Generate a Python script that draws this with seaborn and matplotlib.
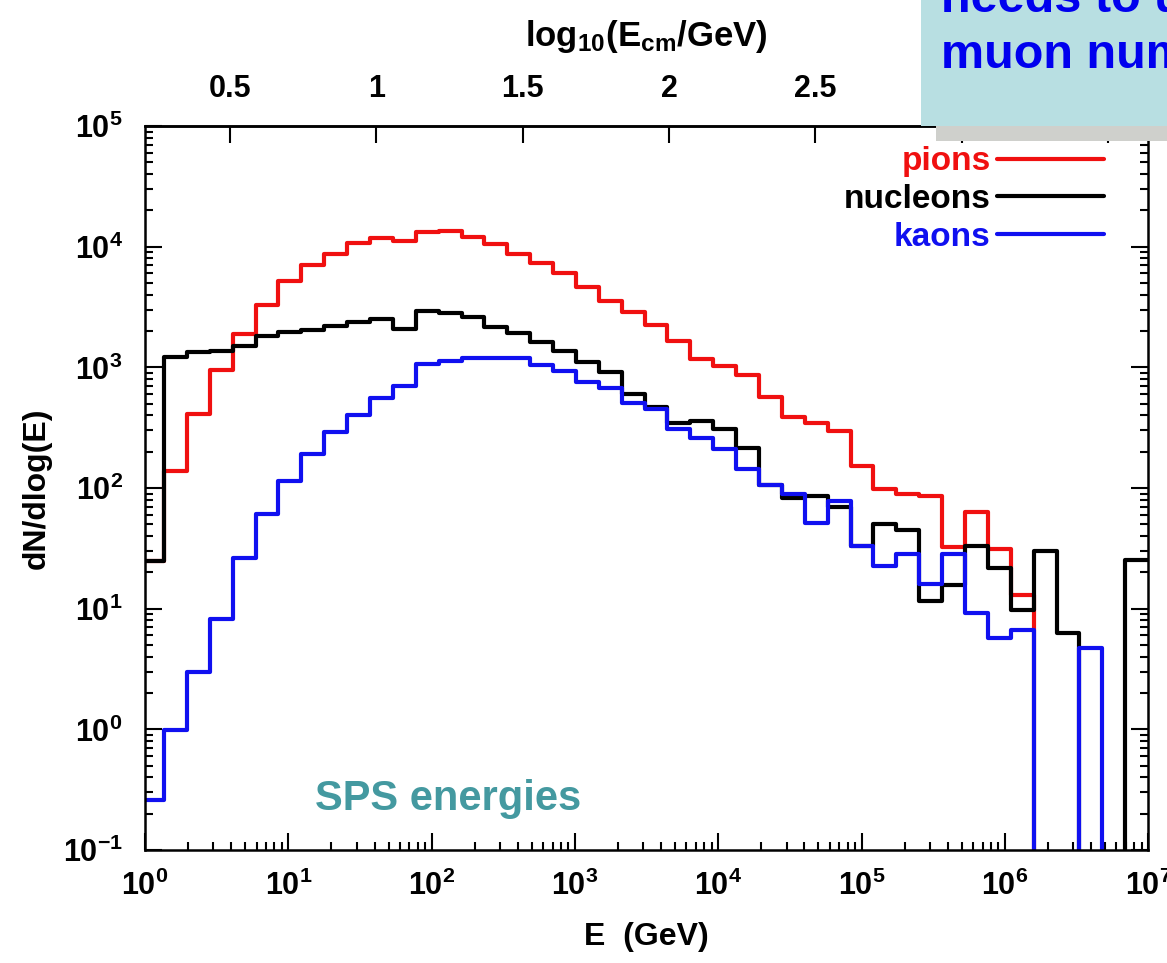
import numpy as np
import pandas as pd
import seaborn as sns
import matplotlib.pyplot as plt
from matplotlib.lines import Line2D
from matplotlib.patches import Rectangle
from matplotlib import ticker

# histogram bins: equal width in log10(E)
bin_lo = -0.0272
bin_width = 0.1597
n_bins = 44

particles = ['pions', 'nucleons', 'kaons']
colors = ['#f01010', '#000000', '#1010f0']

pions = [25, 138, 414, 949, 1890, 3296, 5180, 7100, 8750, 10650,
         11850, 11100, 13200, 13480, 12020, 10450, 8630, 7310, 6040, 4677,
         3580, 2898, 2259, 1641, 1172, 1031, 862, 573, 391, 348,
         297, 152, 99, 89.6, 86.7, 32.3, 63.4, 31.5, 12.9, 0,
         0, 0, 0, 0]
nucleons = [24.7, 1208, 1330, 1355, 1493, 1832, 1950, 2054, 2218, 2375,
            2500, 2080, 2950, 2843, 2634, 2147, 1915, 1632, 1374, 1110,
            908, 600, 468, 348, 360, 310, 215, 107, 83, 86,
            70, 33, 50.4, 45.3, 11.6, 15.6, 32.9, 21.7, 9.8, 30.3,
            6.25, 0, 0, 25.5]
kaons = [0.258, 0.996, 2.97, 8.18, 26.3, 61.5, 114, 190, 293, 400,
         555, 698, 1058, 1120, 1186, 1207, 1186, 1045, 925, 757,
         681, 511, 450, 311, 258, 209, 144, 107, 89, 51.5,
         78, 32.9, 22.4, 28.6, 16.0, 28.4, 9.2, 5.76, 6.68, 0,
         0, 4.7, 0, 0]

# top axis ticks; the last two sit under the slide box, so no labels
top_ticks = [0.5, 1, 1.5, 2, 2.5, 3, 3.5]
top_labels = ['0.5', '1', '1.5', '2', '2.5', '', '']

# build long-form table, last value repeated so the final step reaches the edge
edges = 10 ** (bin_lo + bin_width * np.arange(n_bins + 1))
rows = []
for name, vals in zip(particles, [pions, nucleons, kaons]):
    for e, v in zip(edges, list(vals) + [vals[-1]]):
        rows.append((name, e, v))
df = pd.DataFrame(rows, columns=['particle', 'E', 'dN'])

sns.set_style('ticks')
plt.rcParams['font.family'] = ['Liberation Sans', 'DejaVu Sans']
plt.rcParams['font.weight'] = 'bold'
plt.rcParams['axes.labelweight'] = 'bold'
plt.rcParams['text.color'] = 'black'
plt.rcParams['axes.labelcolor'] = 'black'
plt.rcParams['axes.edgecolor'] = 'black'
plt.rcParams['xtick.color'] = 'black'
plt.rcParams['ytick.color'] = 'black'
plt.rcParams['mathtext.fontset'] = 'custom'
plt.rcParams['mathtext.rm'] = 'Liberation Sans:bold'
plt.rcParams['mathtext.bf'] = 'Liberation Sans:bold'
plt.rcParams['mathtext.it'] = 'Liberation Sans:bold'

fig = plt.figure(figsize=(11.67, 9.63), dpi=100)
ax = fig.add_axes([0.1243, 0.1173, 0.8595, 0.7518])

sns.lineplot(data=df, x='E', y='dN', hue='particle', hue_order=particles,
             palette=colors, drawstyle='steps-post', estimator=None,
             sort=False, linewidth=3, legend=False, ax=ax)

ax.set_xscale('log')
ax.set_yscale('log')
ax.set_xlim(1, 1e7)
ax.set_ylim(0.1, 1e5)

fmt = ticker.FuncFormatter(lambda v, p: r'$\mathbf{10^{%d}}$' % round(np.log10(v)))
ax.xaxis.set_major_locator(ticker.LogLocator(base=10, numticks=20))
ax.yaxis.set_major_locator(ticker.LogLocator(base=10, numticks=20))
ax.xaxis.set_minor_locator(ticker.LogLocator(base=10, subs=np.arange(2, 10), numticks=20))
ax.yaxis.set_minor_locator(ticker.LogLocator(base=10, subs=np.arange(2, 10), numticks=20))
ax.xaxis.set_major_formatter(fmt)
ax.yaxis.set_major_formatter(fmt)
ax.xaxis.set_minor_formatter(ticker.NullFormatter())
ax.yaxis.set_minor_formatter(ticker.NullFormatter())

ax.tick_params(which='both', direction='in', width=1.5, top=False, right=True,
               labelsize=22)
ax.tick_params(which='major', length=12)
ax.tick_params(which='minor', length=6)
ax.tick_params(axis='x', pad=15)
ax.tick_params(axis='y', pad=16)
for s in ax.spines.values():
    s.set_linewidth(1.8)
    s.set_visible(True)

ax.set_xlabel('E  (GeV)', fontsize=23, labelpad=14)
ax.set_ylabel('dN/dlog(E)', fontsize=23, labelpad=8)

# top axis: log10 of centre-of-mass energy
a_cm, b_cm = 0.4895, 0.21


def to_cm(e):
    return a_cm * np.log10(np.maximum(e, 1e-300)) + b_cm


def from_cm(s):
    return 10 ** ((np.asarray(s) - b_cm) / a_cm)


ax2 = ax.secondary_xaxis('top', functions=(to_cm, from_cm))
ax2.set_xticks(top_ticks)
ax2.xaxis.set_major_formatter(ticker.FixedFormatter(top_labels))
ax2.xaxis.set_minor_locator(ticker.NullLocator())
ax2.tick_params(direction='in', length=12, width=1.5, labelsize=22, pad=16)
ax2.spines['top'].set_linewidth(1.8)
ax2.set_xlabel(r'log$_{\mathbf{10}}$(E$_{\mathbf{cm}}$/GeV)', fontsize=25, labelpad=20)

handles = [Line2D([], [], color=c, linewidth=3) for c in colors]
ax.legend(handles, particles, loc='upper right', bbox_to_anchor=(0.956, 0.972),
          markerfirst=False, frameon=False, labelcolor=colors,
          prop=dict(weight='bold', size=24), handlelength=3.2,
          handletextpad=0.2, labelspacing=0.2, borderaxespad=0, borderpad=0)

ax.text(0.169, 0.055, 'SPS energies', transform=ax.transAxes, fontsize=30,
        color='#4499a0', weight='bold', va='baseline')

# slide box overlapping the top right corner
fig.add_artist(Rectangle((936 / 1167, 1 - 141 / 963), 1 - 936 / 1167, 16 / 963,
                         transform=fig.transFigure, facecolor='#cfd0cc',
                         edgecolor='none', zorder=10))
fig.add_artist(Rectangle((921 / 1167, 1 - 126 / 963), 1 - 921 / 1167, 126 / 963,
                         transform=fig.transFigure, facecolor='#b8dfe2',
                         edgecolor='none', zorder=11))
fig.text(941 / 1167, 1 - 12 / 963, 'needs to und', fontsize=35, color='#0000ee',
         weight='bold', va='baseline', zorder=12)
fig.text(941 / 1167, 1 - 68 / 963, 'muon numb', fontsize=35, color='#0000ee',
         weight='bold', va='baseline', zorder=12)

fig.savefig('out.png', dpi=100)
